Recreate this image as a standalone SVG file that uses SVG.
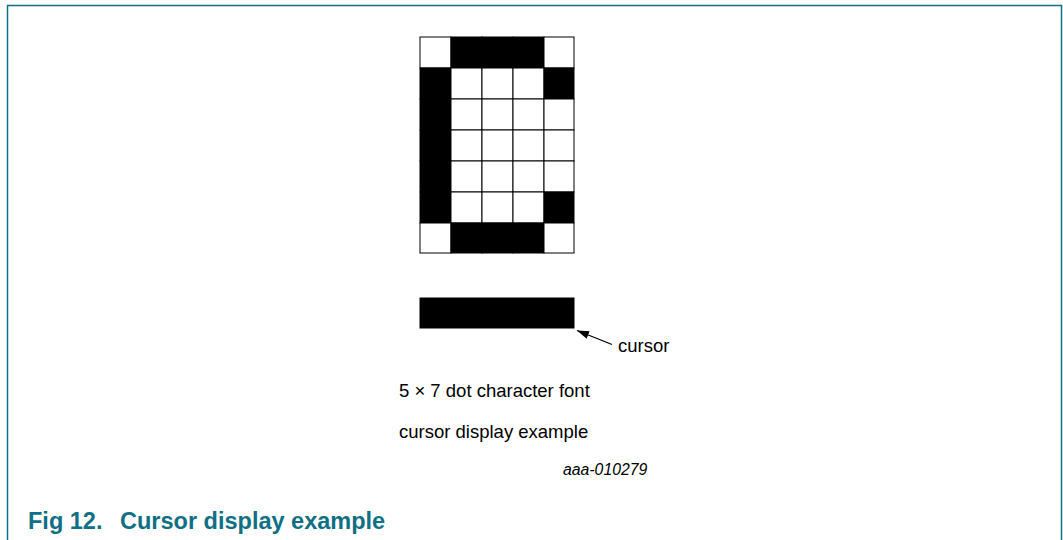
<svg xmlns="http://www.w3.org/2000/svg" width="1063" height="540" viewBox="0 0 1063 540">
<style>
.frame{fill:none;stroke:#0f6f85;stroke-width:1.5}
.on{fill:#000;stroke:#000;stroke-width:1}
.off{fill:#fff;stroke:#000;stroke-width:1}
.t{font-family:"Liberation Sans",Arial,sans-serif;font-size:18.5px;fill:#000}
.id{font-family:"Liberation Sans",Arial,sans-serif;font-size:15.8px;font-style:italic;fill:#000}
.cap{font-family:"Liberation Sans",Arial,sans-serif;font-size:23.5px;font-weight:bold;fill:#0f6f85}
</style>
<defs>
<marker id="ah" markerWidth="12" markerHeight="8" refX="12" refY="4" orient="auto" markerUnits="userSpaceOnUse">
<path d="M0,0 L12,4 L0,8 z" fill="#000"/>
</marker>
</defs>
<rect width="1063" height="540" fill="#fff"/>
<path class="frame" d="M7.5,540 V5.5 H1061.5 V540"/>
<g id="grid">
<rect class="off" x="420" y="37" width="31" height="31"/>
<rect class="on" x="451" y="37" width="31" height="31"/>
<rect class="on" x="482" y="37" width="31" height="31"/>
<rect class="on" x="513" y="37" width="31" height="31"/>
<rect class="off" x="544" y="37" width="30" height="31"/>

<rect class="on" x="420" y="68" width="31" height="31"/>
<rect class="off" x="451" y="68" width="31" height="31"/>
<rect class="off" x="482" y="68" width="31" height="31"/>
<rect class="off" x="513" y="68" width="31" height="31"/>
<rect class="on" x="544" y="68" width="30" height="31"/>

<rect class="on" x="420" y="99" width="31" height="31"/>
<rect class="off" x="451" y="99" width="31" height="31"/>
<rect class="off" x="482" y="99" width="31" height="31"/>
<rect class="off" x="513" y="99" width="31" height="31"/>
<rect class="off" x="544" y="99" width="30" height="31"/>

<rect class="on" x="420" y="130" width="31" height="31"/>
<rect class="off" x="451" y="130" width="31" height="31"/>
<rect class="off" x="482" y="130" width="31" height="31"/>
<rect class="off" x="513" y="130" width="31" height="31"/>
<rect class="off" x="544" y="130" width="30" height="31"/>

<rect class="on" x="420" y="161" width="31" height="31"/>
<rect class="off" x="451" y="161" width="31" height="31"/>
<rect class="off" x="482" y="161" width="31" height="31"/>
<rect class="off" x="513" y="161" width="31" height="31"/>
<rect class="off" x="544" y="161" width="30" height="31"/>

<rect class="on" x="420" y="192" width="31" height="31"/>
<rect class="off" x="451" y="192" width="31" height="31"/>
<rect class="off" x="482" y="192" width="31" height="31"/>
<rect class="off" x="513" y="192" width="31" height="31"/>
<rect class="on" x="544" y="192" width="30" height="31"/>

<rect class="off" x="420" y="223" width="31" height="30"/>
<rect class="on" x="451" y="223" width="31" height="30"/>
<rect class="on" x="482" y="223" width="31" height="30"/>
<rect class="on" x="513" y="223" width="31" height="30"/>
<rect class="off" x="544" y="223" width="30" height="30"/>
</g>
<g id="cursor-bar">
<rect x="419.5" y="297.5" width="155" height="31" fill="#000"/>
</g>
<g id="connectors">
<line x1="612" y1="344.5" x2="577" y2="330.5" stroke="#000" stroke-width="1.2" marker-end="url(#ah)"/>
</g>
<g id="labels">
<text class="t" x="618" y="352">cursor</text>
<text class="t" x="399" y="397">5 × 7 dot character font</text>
<text class="t" x="399" y="438">cursor display example</text>
<text class="id" x="563" y="475">aaa-010279</text>
<text class="cap" x="28" y="529">Fig 12.</text>
<text class="cap" x="120" y="529">Cursor display example</text>
</g>
</svg>
